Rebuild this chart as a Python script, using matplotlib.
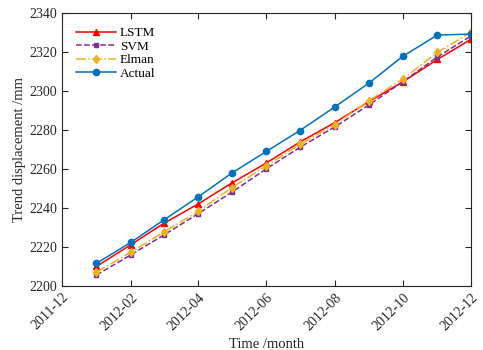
import numpy as np
import matplotlib
matplotlib.use("Agg")
import matplotlib.pyplot as plt
import matplotlib.dates as mdates
from datetime import datetime

# monthly data, 2012-01 .. 2012-12
months = [datetime(2012, m, 1) for m in range(1, 13)]
actual = [2211.6, 2222.4, 2233.7, 2245.6, 2257.8, 2268.9, 2279.6, 2291.6, 2304.0, 2317.6, 2328.5, 2329.0]
lstm = [2210.0, 2221.2, 2232.0, 2242.0, 2252.7, 2263.0, 2273.7, 2283.6, 2294.5, 2304.5, 2316.0, 2326.3]
svm = [2205.6, 2216.0, 2226.0, 2237.0, 2248.0, 2260.0, 2271.0, 2281.4, 2292.8, 2304.6, 2317.3, 2328.0]
elman = [2207.0, 2217.4, 2227.5, 2238.2, 2250.3, 2261.5, 2272.5, 2282.6, 2294.9, 2306.0, 2319.6, 2330.0]

plt.rcParams['font.family'] = ['Liberation Serif', 'DejaVu Serif']
plt.rcParams['font.size'] = 10

fig = plt.figure(figsize=(4.83, 3.5), dpi=100)
ax = fig.add_axes([0.128, 0.183, 0.847, 0.781])

ax.plot(months, lstm, '-', color='#ff0000', marker='^', ms=4.5, lw=1.1, label='LSTM')
ax.plot(months, svm, '--', color='#7e2f8e', marker='s', ms=3, lw=1.1, label='SVM')
ax.plot(months, elman, '-.', color='#edb120', marker='d', ms=4.5, lw=1.1, label='Elman')
ax.plot(months, actual, '-', color='#0072bd', marker='o', ms=4.5, lw=1.1, label='Actual')

ax.set_xlim(datetime(2011, 12, 1), datetime(2012, 12, 1))
ax.set_ylim(2200, 2340)
ax.set_yticks(np.arange(2200, 2341, 20))
ax.xaxis.set_major_locator(mdates.MonthLocator(bymonth=[2, 4, 6, 8, 10, 12]))
ax.xaxis.set_major_formatter(mdates.DateFormatter('%Y-%m'))
plt.setp(ax.get_xticklabels(), rotation=45, ha='right', rotation_mode='anchor')

ax.tick_params(direction='in', top=True, right=True, length=4, width=0.8, colors='#262626')
for s in ax.spines.values():
    s.set_linewidth(0.8)
    s.set_color('#262626')

ax.set_xlabel('Time /month', fontsize=10.5, color='#262626')
ax.set_ylabel('Trend displacement /mm', fontsize=10.5, color='#262626', labelpad=2)

ax.legend(loc='upper left', frameon=False, handlelength=3.0, handletextpad=0.3,
          borderaxespad=0.7, labelspacing=0.1, fontsize=9.5)

fig.savefig('out.png', dpi=100)
